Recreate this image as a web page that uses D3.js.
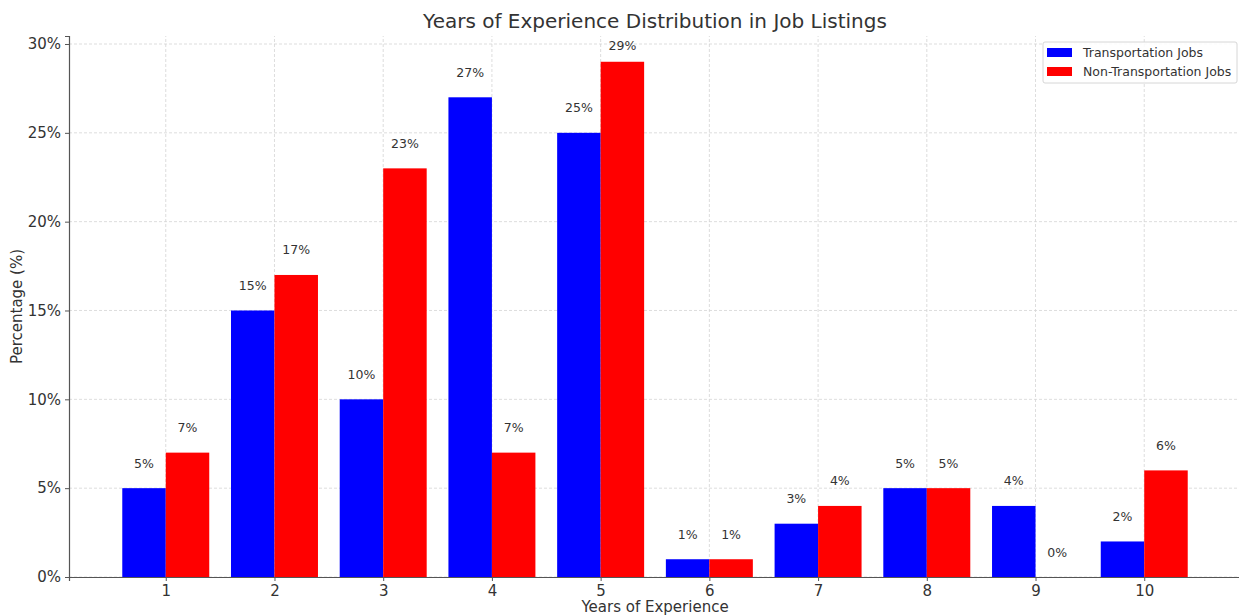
<!DOCTYPE html>
<html>
<head>
<meta charset="utf-8">
<script src="https://cdn.jsdelivr.net/npm/d3@7"></script>
<style>
  html, body { margin: 0; padding: 0; background: #fff; }
  svg text { font-family: "DejaVu Sans", sans-serif; fill: #333; }
</style>
</head>
<body>
<svg id="chart" width="1239" height="616"></svg>
<script>
// Years of experience required, share of listings per group
const years = [1, 2, 3, 4, 5, 6, 7, 8, 9, 10];
const transportation = [5, 15, 10, 27, 25, 1, 3, 5, 4, 2];
const nonTransportation = [7, 17, 23, 7, 29, 1, 4, 5, 0, 6];
const yTicks = [0, 5, 10, 15, 20, 25, 30];
const seriesNames = ["Transportation Jobs", "Non-Transportation Jobs"];
const seriesColors = ["#0000ff", "#ff0000"];

const svg = d3.select("#chart");
const margin = { left: 69, right: -2, top: 36, bottom: 39 };
const W = 1239, H = 616;
const barW = 0.4;

// Linear x domain with 5% padding around the bar extent
const xMin = years[0] - barW, xMax = years[years.length - 1] + barW;
const pad = (xMax - xMin) * 0.05;
const x = d3.scaleLinear().domain([xMin - pad, xMax + pad]).range([margin.left, W - margin.right]);
const yMaxData = d3.max([...transportation, ...nonTransportation]);
const y = d3.scaleLinear().domain([0, yMaxData * 1.05]).range([H - margin.bottom, margin.top]);

// Grid
const grid = svg.append("g").attr("stroke", "#d4d4d4").attr("stroke-width", 0.8).attr("stroke-dasharray", "3,2");
grid.selectAll(".gx").data(years).join("line")
  .attr("x1", d => x(d)).attr("x2", d => x(d))
  .attr("y1", y.range()[0]).attr("y2", y.range()[1]);
grid.selectAll(".gy").data(yTicks).join("line")
  .attr("x1", x.range()[0]).attr("x2", x.range()[1])
  .attr("y1", d => y(d)).attr("y2", d => y(d));

// Bars with value labels above, kept inside the plot area
const series = [transportation, nonTransportation];
series.forEach((vals, si) => {
  const offset = si === 0 ? -barW : 0;
  const g = svg.append("g");
  g.selectAll("rect").data(years).join("rect")
    .attr("x", (d) => x(d + offset))
    .attr("width", x(barW) - x(0))
    .attr("y", (d, i) => y(vals[i]))
    .attr("height", (d, i) => y(0) - y(vals[i]))
    .attr("fill", seriesColors[si]);
  g.selectAll("text").data(years).join("text")
    .attr("x", d => x(d + offset + barW / 2))
    .attr("y", (d, i) => Math.max(y(vals[i]) - 25, margin.top + 9))
    .attr("dominant-baseline", "central")
    .attr("text-anchor", "middle")
    .attr("font-size", "12.5px")
    .text((d, i) => vals[i] + "%");
});

// Axes
const xAxis = svg.append("g").attr("transform", `translate(0,${y(0)})`)
  .call(d3.axisBottom(x).tickValues(years).tickFormat(d3.format("d")).tickSizeOuter(0).tickSize(4).tickPadding(4));
const yAxis = svg.append("g").attr("transform", `translate(${margin.left},0)`)
  .call(d3.axisLeft(y).tickValues(yTicks).tickFormat(d => d + "%").tickSizeOuter(0).tickSize(4).tickPadding(4));
[xAxis, yAxis].forEach(a => {
  a.select(".domain").attr("stroke", "#555").attr("stroke-width", 1.2);
  a.selectAll(".tick line").attr("stroke", "#555");
  a.selectAll(".tick text").attr("font-size", "15px").attr("font-family", "DejaVu Sans").attr("fill", "#333");
});

// Titles
svg.append("text").attr("x", (x.range()[0] + x.range()[1]) / 2).attr("y", 28)
  .attr("text-anchor", "middle").attr("font-size", "20px").text("Years of Experience Distribution in Job Listings");
svg.append("text").attr("x", (x.range()[0] + x.range()[1]) / 2).attr("y", 612)
  .attr("text-anchor", "middle").attr("font-size", "15px").text("Years of Experience");
svg.append("text").attr("transform", `translate(22,${(y.range()[0] + y.range()[1]) / 2}) rotate(-90)`)
  .attr("text-anchor", "middle").attr("font-size", "15px").text("Percentage (%)");

// Legend
const lg = svg.append("g").attr("transform", "translate(1043,42)");
lg.append("rect").attr("width", 194).attr("height", 41).attr("rx", 2)
  .attr("fill", "#fff").attr("fill-opacity", 0.85).attr("stroke", "#d6d6d6");
seriesNames.forEach((name, i) => {
  lg.append("rect").attr("x", 4).attr("y", 6 + i * 19).attr("width", 25).attr("height", 9)
    .attr("fill", seriesColors[i]);
  lg.append("text").attr("x", 40).attr("y", 15 + i * 19).attr("font-size", "12.5px").text(name);
});
</script>
</body>
</html>
